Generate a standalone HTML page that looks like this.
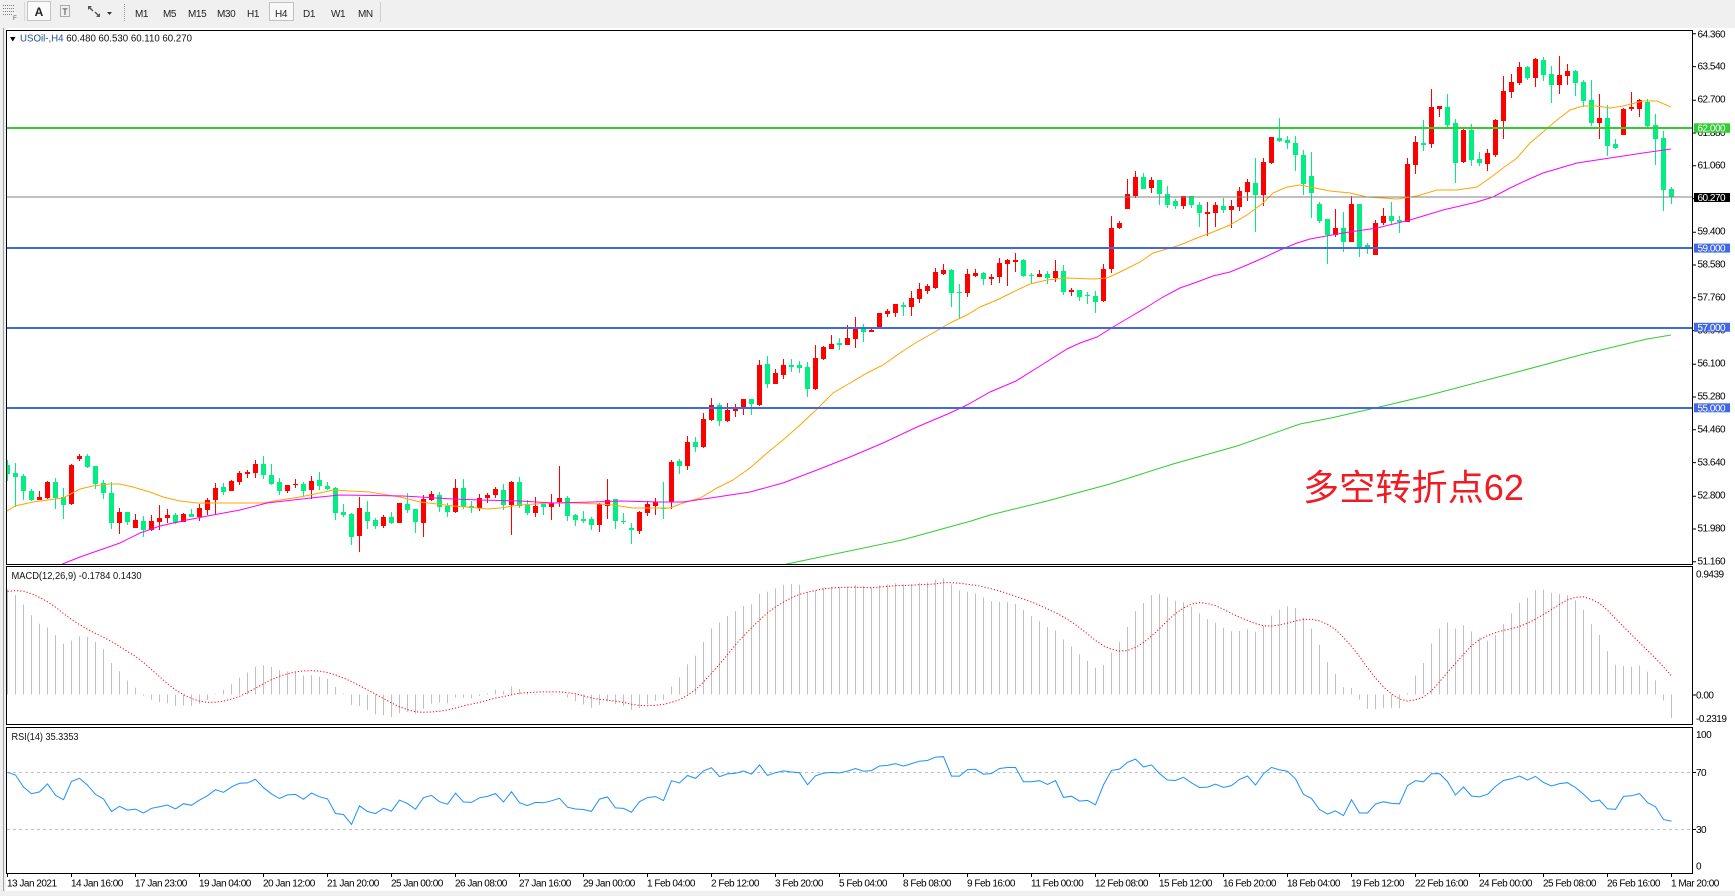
<!DOCTYPE html>
<html><head><meta charset="utf-8"><style>
html,body{margin:0;padding:0;background:#f0f0f0;overflow:hidden;width:1735px;height:896px}
svg{display:block}
.ax{font-family:"Liberation Sans",sans-serif;font-size:10px;letter-spacing:-0.5px;fill:#000}
.tb{font-family:"Liberation Sans",sans-serif;font-size:10px;letter-spacing:-0.4px;fill:#222}
</style></head><body>
<svg id="s" xmlns="http://www.w3.org/2000/svg" width="1735" height="896" viewBox="0 0 1735 896" font-family="Liberation Sans, sans-serif">
<defs>
<clipPath id="cm"><rect x="7" y="31" width="1685" height="533"/></clipPath>
<clipPath id="cd"><rect x="7" y="567" width="1685" height="157"/></clipPath>
<clipPath id="cr"><rect x="7" y="728" width="1685" height="145"/></clipPath>
</defs>
<rect width="1735" height="896" fill="#f0f0f0"/>
<!-- toolbar -->
<g stroke="#808080" stroke-dasharray="1,1" stroke-width="1">
<line x1="3" y1="5.5" x2="15" y2="5.5"/><line x1="3" y1="8.5" x2="15" y2="8.5"/><line x1="3" y1="11.5" x2="15" y2="11.5"/><line x1="3" y1="14.5" x2="12" y2="14.5"/>
</g>
<text x="13" y="20" font-size="6" fill="#555">F</text>
<line x1="24.5" y1="2" x2="24.5" y2="21" stroke="#d8d8d8"/>
<rect x="27.5" y="1.5" width="23" height="19" fill="#fafafa" stroke="#c4c4c4"/>
<text x="39" y="16" font-size="12" font-weight="bold" text-anchor="middle" fill="#222">A</text>
<rect x="60.5" y="5.5" width="9" height="11" fill="none" stroke="#666" stroke-dasharray="1,1"/>
<text x="65" y="15" font-size="9" text-anchor="middle" fill="#333">T</text>
<path d="M88 6l4 0-1.5 1.5 3 3-1 1-3-3L88 10z M100 17l-4 0 1.5-1.5-3-3 1-1 3 3L100 13z" fill="#555"/>
<path d="M107 12h5l-2.5 3z" fill="#333"/>
<line x1="124.5" y1="4" x2="124.5" y2="21" stroke="#999" stroke-dasharray="1,1"/>
<rect x="269.5" y="2.5" width="24" height="18" fill="#f8f8f8" stroke="#c2c2c2"/>
<text class="tb" x="135" y="17">M1</text>
<text class="tb" x="163" y="17">M5</text>
<text class="tb" x="188" y="17">M15</text>
<text class="tb" x="217" y="17">M30</text>
<text class="tb" x="247" y="17">H1</text>
<text class="tb" x="275" y="17">H4</text>
<text class="tb" x="303" y="17">D1</text>
<text class="tb" x="331" y="17">W1</text>
<text class="tb" x="358" y="17">MN</text>
<line x1="380.5" y1="2" x2="380.5" y2="22" stroke="#cfcfcf"/>
<!-- chart area -->
<rect x="4" y="28" width="1731" height="863" fill="#ffffff"/>
<line x1="3.5" y1="28" x2="3.5" y2="891" stroke="#a0a0a0"/>
<rect x="4" y="28" width="2" height="863" fill="#f0f0f0"/>

<!-- main panel content -->
<g clip-path="url(#cm)">
<g id="cndl"></g>
<polyline fill="none" stroke="#ffa500" stroke-width="1" points="7,511 15,506 33,502 63,498 80,489 93,486 110,484 120,484 133,487 150,492 163,497 180,501 197,503 227,503 263,503 280,500 300,497 320,493 333,490 350,491 370,492 387,495 400,497 420,502 437,504 453,506 467,507 487,509 500,508 520,505 550,503 573,503 600,504 613,505 633,508 650,508 670,508 683,503 700,498 717,488 733,480 750,468 767,453 783,440 800,425 817,409 833,393 850,383 867,373 883,365 900,353 917,342 933,333 950,323 967,315 980,307 997,300 1013,292 1030,284 1047,280 1067,278 1093,279 1107,278 1120,272 1140,262 1153,253 1167,249 1180,245 1197,238 1213,232 1230,225 1247,215 1263,203 1273,193 1287,187 1300,185 1310,187 1330,191 1350,193 1367,197 1397,199 1417,196 1437,190 1457,190 1477,187 1490,178 1503,168 1517,158 1530,143 1543,132 1557,120 1570,110 1583,106 1597,106 1610,108 1623,106 1643,101 1657,101 1671,107"/>
<polyline fill="none" stroke="#ff00ff" stroke-width="1" points="55,567 65,563 80,557 100,550 120,543 140,533 160,526 187,520 213,515 240,510 267,503 293,500 320,497 340,495 403,496 420,497 453,499 480,500 520,501 553,503 593,502 620,501 660,502 683,502 717,497 750,492 783,483 817,470 850,457 883,443 917,427 950,413 967,405 990,392 1016,381 1040,366 1067,349 1080,343 1097,337 1113,327 1130,317 1147,307 1163,297 1180,288 1197,282 1213,276 1230,272 1247,265 1263,258 1280,250 1297,243 1310,239 1343,233 1377,228 1410,220 1443,210 1477,202 1493,197 1510,188 1527,180 1543,173 1560,168 1577,163 1610,158 1643,153 1671,149"/>
<polyline fill="none" stroke="#32cd32" stroke-width="1" points="776,567 782,565 902,540 971,521 990,515 1047,501 1110,484 1173,464 1237,446 1300,424 1331,418 1375,408 1426,396 1521,371 1584,354 1647,339 1671,335"/>
<rect x="7" y="127" width="1685" height="2" fill="#32cd32"/>
<rect x="7" y="196.5" width="1685" height="1" fill="#808080"/>
<rect x="7" y="247" width="1685" height="2" fill="#4169e1"/>
<rect x="7" y="327" width="1685" height="2" fill="#4169e1"/>
<rect x="7" y="407" width="1685" height="2" fill="#4169e1"/>
<text x="1303" y="500" font-size="36" fill="#ee1c24" textLength="221" lengthAdjust="spacingAndGlyphs" font-family="Liberation Sans, Noto Sans CJK SC, sans-serif">多空转折点62</text>
</g>
<path d="M10 37h5.5l-2.75 4.5z" fill="#000"/>
<text x="20" y="41.5" font-size="10" textLength="172" lengthAdjust="spacingAndGlyphs"><tspan fill="#1f4e9c">USOil-,H4</tspan><tspan fill="#111">  60.480 60.530 60.110 60.270</tspan></text>

<!-- MACD panel -->
<g clip-path="url(#cd)">
<path id="mh" fill="none" stroke="#c0c0c0" stroke-width="1" d=""/>
<polyline id="ms" fill="none" stroke="#ff0000" stroke-width="1" stroke-dasharray="1.2,2" points=""/>
</g>
<text x="11.5" y="579" font-size="10" fill="#111" textLength="130" lengthAdjust="spacingAndGlyphs">MACD(12,26,9) -0.1784 0.1430</text>

<!-- RSI panel -->
<line x1="7" y1="772.5" x2="1692" y2="772.5" stroke="#c0c0c0" stroke-dasharray="3,3"/>
<line x1="7" y1="829.5" x2="1692" y2="829.5" stroke="#c0c0c0" stroke-dasharray="3,3"/>
<g clip-path="url(#cr)">
<polyline id="rs" fill="none" stroke="#1e90ff" stroke-width="1" points=""/>
</g>
<text x="11.5" y="740" font-size="10" fill="#111" textLength="67" lengthAdjust="spacingAndGlyphs">RSI(14) 35.3353</text>

<!-- frames -->
<g fill="none" stroke="#000" stroke-width="1">
<rect x="6.5" y="30.5" width="1686" height="534"/>
<rect x="6.5" y="566.5" width="1686" height="158"/>
<rect x="6.5" y="727.5" width="1686" height="146"/>
</g>

<!-- price axis -->
<path stroke="#000" stroke-width="1" d="M1693 33.8h3M1693 66.6h3M1693 100.2h3M1693 133h3M1693 165.8h3M1693 198.6h3M1693 232.2h3M1693 265h3M1693 297.8h3M1693 330.6h3M1693 364.2h3M1693 397h3M1693 429.8h3M1693 462.6h3M1693 496.2h3M1693 529h3M1693 561.8h3M1693 695h3M1693 772.5h3M1693 829.5h3"/>
<g class="ax">
<text x="1697.5" y="37.5">64.360</text>
<text x="1697.5" y="69.5">63.540</text>
<text x="1697.5" y="102.5">62.700</text>
<text x="1697.5" y="135.8">61.880</text>
<text x="1697.5" y="168.5">61.060</text>
<text x="1697.5" y="234.5">59.400</text>
<text x="1697.5" y="267.5">58.580</text>
<text x="1697.5" y="300.5">57.760</text>
<text x="1697.5" y="333.5">56.940</text>
<text x="1697.5" y="366.5">56.100</text>
<text x="1697.5" y="399.5">55.280</text>
<text x="1697.5" y="432.5">54.460</text>
<text x="1697.5" y="465.5">53.640</text>
<text x="1697.5" y="498.5">52.800</text>
<text x="1697.5" y="531.5">51.980</text>
<text x="1697.5" y="564.5">51.160</text>
<text x="1696" y="577.3">0.9439</text>
<text x="1696" y="698.3">0.00</text>
<text x="1696" y="721.9">-0.2319</text>
<text x="1696" y="737.9">100</text>
<text x="1696" y="775.9">70</text>
<text x="1696" y="832.9">30</text>
<text x="1696" y="869.6">0</text>
</g>
<rect x="1694" y="123.3" width="36" height="9.5" fill="#32cd32"/>
<text class="ax" x="1697.5" y="131.6" style="fill:#fff">62.000</text>
<rect x="1694" y="193" width="36" height="9" fill="#000"/>
<text class="ax" x="1697.5" y="201" style="fill:#fff">60.270</text>
<rect x="1694" y="243.6" width="36" height="9" fill="#4169e1"/>
<text class="ax" x="1697.5" y="251.7" style="fill:#fff">59.000</text>
<rect x="1694" y="322.8" width="36" height="9" fill="#4169e1"/>
<text class="ax" x="1697.5" y="330.9" style="fill:#fff">57.000</text>
<rect x="1694" y="403.3" width="36" height="9" fill="#4169e1"/>
<text class="ax" x="1697.5" y="411.4" style="fill:#fff">55.000</text>

<!-- time axis -->
<path stroke="#000" stroke-width="1" d="M7.5 873v4M71.5 873v4M135.5 873v4M199.5 873v4M263.5 873v4M327.5 873v4M391.5 873v4M455.5 873v4M519.5 873v4M583.5 873v4M647.5 873v4M711.5 873v4M775.5 873v4M839.5 873v4M903.5 873v4M967.5 873v4M1031.5 873v4M1095.5 873v4M1159.5 873v4M1223.5 873v4M1287.5 873v4M1351.5 873v4M1415.5 873v4M1479.5 873v4M1543.5 873v4M1607.5 873v4M1671.5 873v4"/>
<g class="ax">
<text x="7" y="886.5">13 Jan 2021</text>
<text x="71" y="886.5">14 Jan 16:00</text>
<text x="135" y="886.5">17 Jan 23:00</text>
<text x="199" y="886.5">19 Jan 04:00</text>
<text x="263" y="886.5">20 Jan 12:00</text>
<text x="327" y="886.5">21 Jan 20:00</text>
<text x="391" y="886.5">25 Jan 00:00</text>
<text x="455" y="886.5">26 Jan 08:00</text>
<text x="519" y="886.5">27 Jan 16:00</text>
<text x="583" y="886.5">29 Jan 00:00</text>
<text x="647" y="886.5">1 Feb 04:00</text>
<text x="711" y="886.5">2 Feb 12:00</text>
<text x="775" y="886.5">3 Feb 20:00</text>
<text x="839" y="886.5">5 Feb 04:00</text>
<text x="903" y="886.5">8 Feb 08:00</text>
<text x="967" y="886.5">9 Feb 16:00</text>
<text x="1031" y="886.5">11 Feb 00:00</text>
<text x="1095" y="886.5">12 Feb 08:00</text>
<text x="1159" y="886.5">15 Feb 12:00</text>
<text x="1223" y="886.5">16 Feb 20:00</text>
<text x="1287" y="886.5">18 Feb 04:00</text>
<text x="1351" y="886.5">19 Feb 12:00</text>
<text x="1415" y="886.5">22 Feb 16:00</text>
<text x="1479" y="886.5">24 Feb 00:00</text>
<text x="1543" y="886.5">25 Feb 08:00</text>
<text x="1607" y="886.5">26 Feb 16:00</text>
<text x="1671" y="886.5">1 Mar 20:00</text>
</g>
</svg>
<script>
(function(){
var NS="http://www.w3.org/2000/svg";
var D=[[465,474,460,481],[473,477,463,507],[476,491,474,500],[491,500,489,501],[500,497,491,500],[498,482,481,499],[482,498,478,509],[497,505,488,519],[504,465,464,505],[459,456,454,461],
[456,467,454,468],[466,484,466,489],[483,493,480,499],[493,523,482,529],[523,512,508,534],[512,522,512,525],[528,520,514,528],[521,530,516,537],[530,521,515,531],[522,518,505,530],
[518,515,509,523],[515,523,513,524],[522,514,513,522],[514,517,509,517],[517,508,504,521],[510,500,498,515],[500,488,483,514],[487,492,483,495],[491,481,480,491],[482,473,471,485],
[474,472,470,478],[473,464,460,478],[464,475,456,479],[475,484,464,485],[482,491,478,495],[491,485,485,493],[485,484,479,488],[484,491,482,496],[490,481,476,499],[480,486,472,490],
[486,489,482,490],[488,513,487,520],[512,515,504,517],[514,537,513,545],[536,508,497,552],[512,521,501,529],[520,526,518,529],[526,517,515,528],[517,523,512,524],[523,503,503,523],
[504,510,493,513],[509,522,509,533],[523,499,495,537],[500,494,491,501],[495,507,492,512],[506,512,503,517],[512,488,479,513],[488,507,479,509],[506,508,501,513],[508,498,494,511],
[498,495,493,503],[495,489,487,498],[490,505,484,510],[505,482,481,535],[482,506,477,508],[505,513,500,515],[513,506,497,517],[504,507,502,515],[507,503,494,520],[502,498,466,507],
[498,516,496,521],[515,520,514,526],[519,521,511,523],[519,525,517,530],[525,504,503,532],[506,500,479,519],[499,521,499,529],[521,522,513,524],[528,530,523,544],[531,512,511,534],
[513,504,501,516],[506,502,498,515],[508,509,482,519],[502,462,460,509],[461,466,459,474],[466,442,436,470],[442,447,437,452],[447,419,413,448],[420,405,398,421],[405,421,403,426],
[421,410,403,422],[411,408,404,417],[409,399,399,415],[399,404,399,415],[405,365,360,406],[364,384,356,388],[384,373,369,384],[375,365,359,379],[365,367,359,372],[365,368,361,373],
[367,389,362,397],[389,358,345,390],[359,347,346,360],[349,344,335,349],[343,345,338,350],[345,338,325,345],[339,328,317,348],[328,332,324,342],[332,330,329,332],[328,313,313,328],
[314,311,309,317],[313,304,304,317],[305,307,302,316],[307,298,291,316],[299,289,283,303],[291,286,284,294],[288,272,268,289],[274,270,264,275],[270,293,269,307],[292,293,284,319],
[293,274,269,297],[276,273,269,277],[273,279,272,285],[279,277,274,285],[277,263,258,283],[264,260,259,286],[262,260,253,272],[260,276,259,277],[275,276,273,283],[277,274,270,277],
[274,278,271,284],[278,271,260,282],[271,292,265,295],[292,290,288,296],[290,297,290,301],[295,296,292,304],[296,302,291,313],[301,269,264,302],[269,228,216,273],[228,223,221,229],
[209,194,179,209],[196,177,171,198],[177,189,173,189],[188,180,177,193],[180,194,180,205],[194,205,186,208],[201,206,199,209],[206,196,196,209],[196,205,196,208],[205,213,202,227],
[214,212,202,236],[213,205,202,227],[206,210,198,213],[210,206,200,228],[207,191,187,211],[192,182,179,201],[183,195,158,232],[195,162,158,206],[163,137,137,164],[138,141,118,142],
[140,143,136,149],[143,155,136,171],[155,184,150,195],[176,193,152,218],[204,221,202,223],[219,235,219,264],[235,228,209,237],[228,242,212,252],[242,204,196,242],[204,247,204,257],
[245,247,243,254],[255,223,220,255],[223,216,208,225],[216,221,202,225],[220,222,216,233],[222,164,158,222],[165,142,136,174],[143,145,120,151],[144,107,89,148],[109,106,106,117],
[107,125,94,129],[123,163,119,183],[162,130,129,163],[130,160,124,166],[159,163,152,166],[164,153,149,171],[155,120,119,157],[121,91,76,139],[92,82,74,98],[83,67,62,85],
[67,78,66,80],[78,59,58,87],[60,75,57,81],[74,85,66,103],[85,75,56,94],[76,71,64,85],[71,83,70,96],[82,101,80,107],[100,123,80,126],[123,118,94,139],
[118,146,105,156],[144,148,139,149],[135,109,108,135],[109,107,92,111],[109,100,99,117],[102,126,99,127],[125,139,114,165],[138,190,131,211],[189,197,187,204]];
var pr="",pg="";
for(var i=0;i<D.length;i++){
 var o=D[i][0],c=D[i][1],h=D[i][2],l=D[i][3],x=7+8*i;
 var t=Math.min(o,c),b=Math.max(o,c),bh=Math.max(1,b-t);
 var s="M"+x+" "+h+"h1V"+Math.max(l,h+1)+"h-1zM"+(x-2)+" "+t+"h5v"+bh+"h-5z";
 if(c<o)pr+=s;else pg+=s;
}
var g=document.getElementById("cndl");
var p1=document.createElementNS(NS,"path");p1.setAttribute("d",pg);p1.setAttribute("fill","#00ee82");p1.setAttribute("shape-rendering","crispEdges");g.appendChild(p1);
var p2=document.createElementNS(NS,"path");p2.setAttribute("d",pr);p2.setAttribute("fill","#ff0000");p2.setAttribute("shape-rendering","crispEdges");g.appendChild(p2);
// MACD
var cl=D.map(function(d){return 64.36-(d[1]-33.3)/40;});
var e12=cl[0]-0.3,e26=cl[0]-1.15,M=[];
for(i=0;i<cl.length;i++){e12+=(cl[i]-e12)*2/13;e26+=(cl[i]-e26)*2/27;M.push(e12-e26);}
var H=[0.70,0.74,0.78,0.80,0.82,0.83,0.83,0.82].concat(M);
var Z=694.5,K=130,hd="",sp=[];
for(i=0;i<M.length;i++){
 var sm=0;for(var k=0;k<9;k++)sm+=H[i+k];sm/=9;
 var xx=7.5+8*i;
 hd+="M"+xx+" "+Z+"V"+(Z-M[i]*K).toFixed(1);
 sp.push(xx+","+(Z-sm*K).toFixed(1));
}
document.getElementById("mh").setAttribute("d",hd);
document.getElementById("ms").setAttribute("points",sp.join(" "));
// RSI
var ag=0.14,al=0.06,R=[100-100/(1+ag/al)];
for(i=1;i<cl.length;i++){var d=cl[i]-cl[i-1];ag=(ag*13+Math.max(d,0))/14;al=(al*13+Math.max(-d,0))/14;R.push(100-100/(1+ag/al));}
var rp=[];for(i=0;i<R.length;i++)rp.push((7.5+8*i)+","+(872-R[i]*1.425).toFixed(1));
document.getElementById("rs").setAttribute("points",rp.join(" "));
})();
</script>
</body></html>
